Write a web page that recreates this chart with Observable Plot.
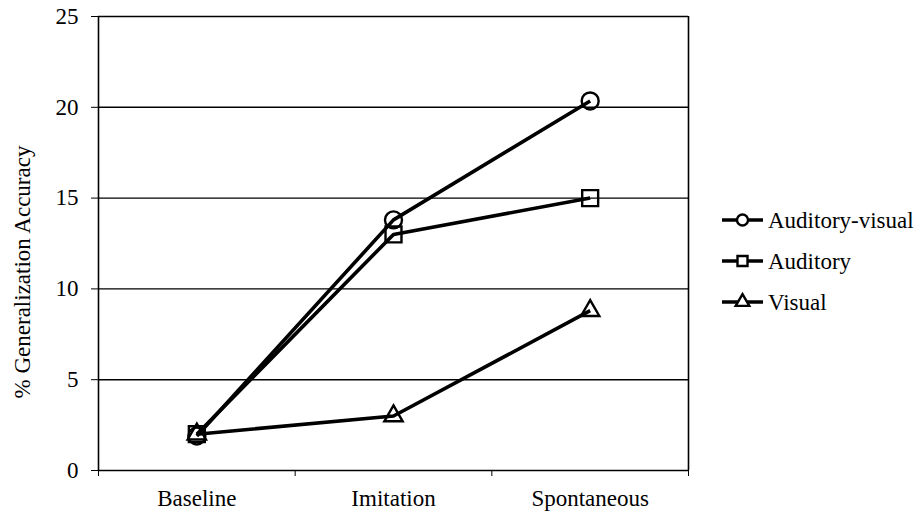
<!DOCTYPE html>
<html>
<head>
<meta charset="utf-8">
<script src="https://cdn.jsdelivr.net/npm/d3@7"></script>
<script src="https://cdn.jsdelivr.net/npm/@observablehq/plot@0.6"></script>
<style>
  html, body { margin: 0; padding: 0; background: #fff; }
  #chart svg { display: block; }
  #chart svg text { font-family: "Liberation Serif", "Times New Roman", serif !important; font-size: 23px !important; fill: #000; }
</style>
</head>
<body>
<div id="chart"></div>
<script>
const categories = ["Baseline", "Imitation", "Spontaneous"];
const seriesNames = ["Auditory-visual", "Auditory", "Visual"];
const auditoryVisual = [1.9, 13.8, 20.35];
const auditory = [2.0, 13.0, 15.0];
const visual = [2.0, 3.0, 8.8];
const yTicks = [0, 5, 10, 15, 20, 25];
const yLabel = "% Generalization Accuracy";

const symbols = ["circle", "square", "triangle"];
const radii = [8.5, 9, 6.8];
const valuesBySeries = [auditoryVisual, auditory, visual];

const data = [];
valuesBySeries.forEach((vals, s) => {
  vals.forEach((v, i) => data.push({series: seriesNames[s], x: i + 0.5, y: v, s}));
});

const marks = [
  Plot.ruleY(yTicks.filter(d => d > 0), {stroke: "#000", strokeWidth: 1.4}),
  Plot.ruleX([0, 3], {stroke: "#000", strokeWidth: 1.6}),
  Plot.ruleY([0], {stroke: "#000", strokeWidth: 1.6}),
  Plot.axisY({ticks: yTicks, tickSize: 7, tickPadding: 13, label: null, tickFormat: d => String(d)}),
  Plot.axisX({ticks: [0, 1, 2, 3], tickSize: 6, tickFormat: () => "", label: null}),
  Plot.axisX({ticks: [0.5, 1.5, 2.5], tickSize: 0, tickPadding: 19, label: null,
              tickFormat: d => categories[Math.round(d - 0.5)]}),
  Plot.line(data, {x: "x", y: "y", z: "series", stroke: "#000", strokeWidth: 3.6, strokeLinejoin: "round", strokeLinecap: "butt"})
];
seriesNames.forEach((name, s) => {
  marks.push(Plot.dot(data.filter(d => d.s === s), {x: "x", y: "y", symbol: () => symbols[s], r: radii[s], stroke: "#000", strokeWidth: 2.4, fill: "none"}));
});

const chart = Plot.plot({
  width: 924,
  height: 519,
  marginLeft: 98,
  marginRight: 236,
  marginTop: 16,
  marginBottom: 49,
  style: {background: "#fff", color: "#000"},
  x: {type: "linear", domain: [0, 3], axis: null},
  y: {domain: [0, 25], axis: null},
  symbol: {type: "identity"},
  marks
});

const svg = d3.select(chart);
const yScale = chart.scale("y");
// y-axis title
svg.append("text")
  .attr("transform", `translate(22,${(yScale.apply(0) + yScale.apply(25)) / 2 + 29}) rotate(-90)`)
  .attr("text-anchor", "middle")
  .attr("dy", "0.35em")
  .text(yLabel);

// legend
const legendX = 722, legendY0 = 220, legendStep = 41;
const sym = [d3.symbolCircle, d3.symbolSquare, d3.symbolTriangle];
const legSizes = [Math.PI * 5.5 * 5.5, 100, 80];
const lg = svg.append("g");
seriesNames.forEach((name, i) => {
  const y = legendY0 + i * legendStep;
  lg.append("line").attr("x1", legendX).attr("x2", legendX + 41).attr("y1", y).attr("y2", y)
    .attr("stroke", "#000").attr("stroke-width", 3.6);
  lg.append("path").attr("d", d3.symbol(sym[i], legSizes[i])())
    .attr("transform", `translate(${legendX + 20.5},${y})`)
    .attr("fill", "#fff").attr("stroke", "#000").attr("stroke-width", 2.4);
  lg.append("text").attr("x", legendX + 46).attr("y", y).attr("dy", "0.35em")
    .attr("text-anchor", "start").text(name);
});

document.getElementById("chart").appendChild(chart);
</script>
</body>
</html>
